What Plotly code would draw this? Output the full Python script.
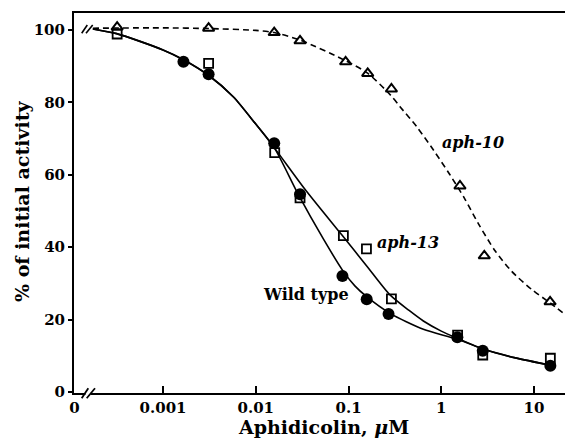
import plotly.graph_objects as go

# ---------------- data (concentration in uM, % of initial activity) ----------------
aph10_x = [0.00032, 0.0031, 0.0158, 0.030, 0.093, 0.161, 0.29, 1.59, 2.91, 14.9]
aph10_y = [100.8, 100.5, 99.3, 97.0, 91.2, 88.0, 83.7, 56.9, 37.6, 24.9]

aph13_x = [0.00032, 0.0031, 0.016, 0.030, 0.088, 0.156, 0.29, 1.5, 2.8, 15.0]
aph13_y = [98.9, 90.8, 66.1, 53.6, 43.2, 39.5, 25.7, 15.7, 10.2, 9.3]

wt_x = [0.00166, 0.0031, 0.0158, 0.030, 0.086, 0.157, 0.27, 1.49, 2.8, 15.0]
wt_y = [91.2, 87.8, 68.7, 54.6, 32.0, 25.6, 21.5, 15.1, 11.4, 7.2]

# fitted curves
wt_curve_x = [0.000175, 0.000316, 0.001, 0.00166, 0.00309, 0.00575, 0.01, 0.0158,
              0.0288, 0.0537, 0.0879, 0.117, 0.157, 0.280, 0.641, 1.47, 2.95, 6.3, 15.5]
wt_curve_y = [100.3, 99.0, 94.5, 91.8, 87.5, 81.5, 74.0, 67.5,
              54.5, 42.2, 33.3, 29.3, 26.3, 21.7, 17.3, 14.6, 11.7, 9.4, 7.3]

aph13_curve_x = [0.000175, 0.000316, 0.001, 0.00166, 0.00309, 0.00575, 0.01, 0.0158,
                 0.0339, 0.0845, 0.157, 0.280, 0.45, 0.641, 1.0, 1.47, 2.95, 6.3, 15.5]
aph13_curve_y = [100.3, 99.0, 94.5, 91.8, 87.5, 81.5, 74.0, 67.5,
                 56.0, 43.4, 34.8, 26.8, 22.5, 19.6, 16.8, 14.9, 11.7, 9.4, 7.3]

aph10_curve_x = [0.000175, 0.001, 0.00316, 0.01, 0.0158, 0.0302, 0.0933, 0.162, 0.284,
                 0.359, 0.543, 0.820, 1.24, 1.78, 2.51, 3.80, 5.75, 9.44, 14.9, 21.6]
aph10_curve_y = [100.5, 100.6, 100.4, 99.9, 99.3, 97.2, 91.5, 88.0, 82.0,
                 78.8, 73.3, 66.9, 60.0, 53.5, 46.5, 39.0, 33.3, 28.3, 24.6, 21.4]

x_tickvals = [10 ** -3.955, 0.001, 0.01, 0.1, 1, 10]
x_ticktext = ["0", "0.001", "0.01", "0.1", "1", "10"]
y_tickvals = [0, 20, 40, 60, 80, 100]

# ---------------- figure ----------------
W, H = 565, 439
ML, MR, MT, MB = 74, 0, 13, 46
PW, PH = W - ML - MR, H - MT - MB


def px(xp):
    return (xp - ML) / PW


def py(yp):
    return (H - MB - yp) / PH


SERIF = "DejaVu Serif"
fig = go.Figure()

fig.add_trace(go.Scatter(x=aph10_curve_x, y=aph10_curve_y, mode="lines",
                         line=dict(color="black", width=1.6, dash="6px,4px", shape="spline", smoothing=0.7),
                         hoverinfo="skip"))
fig.add_trace(go.Scatter(x=aph13_curve_x, y=aph13_curve_y, mode="lines",
                         line=dict(color="black", width=1.6, shape="spline", smoothing=0.7),
                         hoverinfo="skip"))
fig.add_trace(go.Scatter(x=wt_curve_x, y=wt_curve_y, mode="lines",
                         line=dict(color="black", width=1.6, shape="spline", smoothing=0.7),
                         hoverinfo="skip"))

fig.add_trace(go.Scatter(x=aph10_x, y=aph10_y, mode="markers",
                         marker=dict(symbol="triangle-up-open", size=10, color="black",
                                     line=dict(width=2, color="black"))))
fig.add_trace(go.Scatter(x=aph13_x, y=aph13_y, mode="markers",
                         marker=dict(symbol="square-open", size=9, color="black",
                                     line=dict(width=1.8, color="black"))))
fig.add_trace(go.Scatter(x=wt_x, y=wt_y, mode="markers",
                         marker=dict(symbol="circle", size=12, color="black",
                                     line=dict(width=0))))

shapes = []
# break on the x axis
shapes.append(dict(type="rect", xref="paper", yref="paper", x0=px(85.5), x1=px(90.5), y0=py(396), y1=py(390),
                   fillcolor="white", line=dict(width=0), layer="above"))
for a, b in [((81.7, 398.3), (88.3, 388.3)), ((86.7, 398.3), (95.0, 388.3))]:
    shapes.append(dict(type="line", xref="paper", yref="paper", x0=px(a[0]), y0=py(a[1]), x1=px(b[0]), y1=py(b[1]),
                       line=dict(color="black", width=1.8), layer="above"))
# break on the curves at the top
for a, b in [((81.7, 33.3), (87.3, 25.0)), ((86.0, 33.3), (92.7, 25.0))]:
    shapes.append(dict(type="line", xref="paper", yref="paper", x0=px(a[0]), y0=py(a[1]), x1=px(b[0]), y1=py(b[1]),
                       line=dict(color="black", width=1.6), layer="above"))

annotations = [
    dict(x=0.342, y=68.8, xref="x", yref="y", text="<i>aph-10</i>", showarrow=False,
         font=dict(family=SERIF, size=16, color="black", weight="bold")),
    dict(x=-0.364, y=41.2, xref="x", yref="y", text="<i>aph-13</i>", showarrow=False,
         font=dict(family=SERIF, size=16, color="black", weight="bold")),
    dict(x=-1.458, y=26.8, xref="x", yref="y", text="Wild type", showarrow=False,
         font=dict(family=SERIF, size=16, color="black", weight="bold")),
    dict(x=px(22), y=py(202), xref="paper", yref="paper", text="% of initial activity", showarrow=False,
         textangle=-90, xanchor="center", yanchor="middle",
         font=dict(family=SERIF, size=19, color="black", weight="bold")),
    dict(x=px(323), y=py(427), xref="paper", yref="paper", text="Aphidicolin, <i>μ</i>M", showarrow=False,
         xanchor="center", yanchor="middle",
         font=dict(family=SERIF, size=19, color="black", weight="bold")),
]

fig.update_layout(
    width=W, height=H,
    margin=dict(l=ML, r=MR, t=MT, b=MB, pad=0),
    paper_bgcolor="white", plot_bgcolor="white",
    showlegend=False,
    font=dict(family=SERIF, size=15, color="black", weight="bold"),
    xaxis=dict(type="log", range=[-3.96, 1.334], tickvals=x_tickvals, ticktext=x_ticktext,
               ticks="inside", ticklen=7, tickwidth=2, tickcolor="black",
               showline=True, linewidth=2, linecolor="black", mirror=True,
               showgrid=False, zeroline=False,
               tickfont=dict(family=SERIF, size=15, color="black", weight="bold")),
    yaxis=dict(range=[-0.3, 104.7], tickvals=y_tickvals,
               ticks="outside", ticklen=4, tickwidth=2, tickcolor="black",
               showline=True, linewidth=2, linecolor="black",
               showgrid=False, zeroline=False,
               tickfont=dict(family=SERIF, size=15, color="black", weight="bold")),
    yaxis2=dict(range=[-0.3, 104.7], overlaying="y", side="left", anchor="x", tickvals=y_tickvals,
                ticks="inside", ticklen=8, tickwidth=2, tickcolor="black",
                showticklabels=False, showline=False, showgrid=False, zeroline=False),
    shapes=shapes,
    annotations=annotations,
)

fig.write_html("out.html")
